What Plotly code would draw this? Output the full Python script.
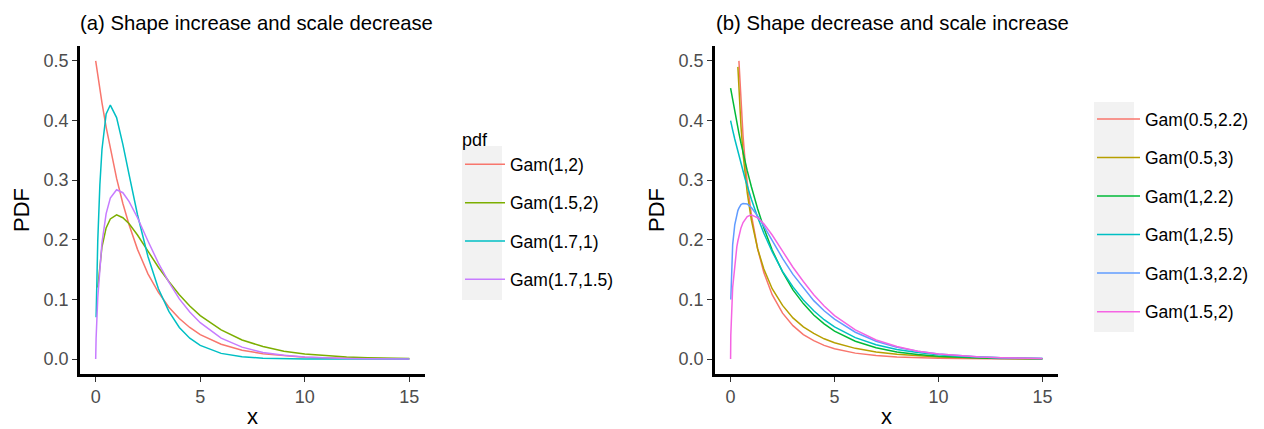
import plotly.graph_objects as go

# ---------------- data ----------------
xa = [0, 0.02, 0.1, 0.2, 0.3, 0.5, 0.7, 1.0, 1.3, 1.6, 2.0, 2.5, 3.0, 3.5, 4.0, 4.5,
      5, 6, 7, 8, 9, 10, 11, 12, 13, 14, 15]
gam_1_2 = [0.500, 0.495, 0.476, 0.452, 0.430, 0.389, 0.352, 0.303, 0.261, 0.225, 0.184,
           0.143, 0.112, 0.087, 0.068, 0.053, 0.041, 0.025, 0.015, 0.009, 0.006, 0.003,
           0.002, 0.001, 0.001, 0.0005, 0.0003]
gam_15_2 = [None, None, 0.120, 0.161, 0.188, 0.220, 0.235, 0.242, 0.237, 0.227, 0.208,
            0.181, 0.154, 0.130, 0.108, 0.089, 0.073, 0.049, 0.032, 0.021, 0.013, 0.0085,
            0.0054, 0.0034, 0.0022, 0.0014, 0.0009]
gam_17_1 = [None, 0.070, 0.199, 0.292, 0.351, 0.411, 0.426, 0.405, 0.360, 0.309, 0.242,
            0.172, 0.118, 0.080, 0.053, 0.035, 0.023, 0.0096, 0.0039, 0.0016, 0.0006,
            0.0002, 0.0001, 0, 0, 0, 0]
gam_17_15 = [0, 0.035, 0.103, 0.157, 0.195, 0.244, 0.270, 0.284, 0.279, 0.264, 0.237,
             0.198, 0.161, 0.129, 0.101, 0.079, 0.061, 0.035, 0.020, 0.011, 0.0064,
             0.0035, 0.0019, 0.0011, 0.0006, 0.0003, 0.0002]
names_a = ["Gam(1,2)", "Gam(1.5,2)", "Gam(1.7,1)", "Gam(1.7,1.5)"]
colors_a = ["#F8766D", "#7CAE00", "#00BFC4", "#C77CFF"]

xb = [0, 0.01, 0.1, 0.2, 0.3, 0.35, 0.4, 0.5, 0.6, 0.7, 0.8, 1.0, 1.3, 1.6, 2.0, 2.5,
      3.0, 3.5, 4.0, 4.5, 5, 6, 7, 8, 9, 10, 11, 12, 13, 14, 15]
gam_05_22 = [None, None, None, None, None, None, 0.500, 0.429, 0.374, 0.331, 0.296, 0.242,
             0.185, 0.145, 0.108, 0.077, 0.056, 0.041, 0.031, 0.023, 0.0175, 0.010,
             0.006, 0.0035, 0.0021, 0.0013, 0.0008, 0.0005, 0.0003, 0.0002, 0.0001]
gam_05_3 = [None, None, None, None, None, 0.490, 0.451, 0.390, 0.344, 0.308, 0.279, 0.233,
            0.185, 0.151, 0.118, 0.090, 0.069, 0.054, 0.043, 0.034, 0.0275, 0.018,
            0.012, 0.008, 0.0054, 0.0037, 0.0025, 0.0017, 0.0012, 0.0008, 0.0006]
gam_1_22 = [0.4545, 0.4525, 0.434, 0.415, 0.397, 0.388, 0.379, 0.362, 0.346, 0.331, 0.316,
            0.289, 0.252, 0.220, 0.183, 0.146, 0.116, 0.093, 0.074, 0.059, 0.047, 0.030,
            0.019, 0.012, 0.0076, 0.0048, 0.0031, 0.0019, 0.0012, 0.0008, 0.0005]
gam_1_25 = [0.400, 0.398, 0.384, 0.369, 0.355, 0.348, 0.341, 0.328, 0.315, 0.302, 0.291,
            0.268, 0.238, 0.211, 0.180, 0.147, 0.121, 0.099, 0.081, 0.066, 0.054, 0.036,
            0.024, 0.016, 0.011, 0.0073, 0.0049, 0.0033, 0.0022, 0.0015, 0.0010]
gam_13_22 = [None, 0.100, 0.192, 0.225, 0.243, 0.249, 0.253, 0.259, 0.261, 0.261, 0.260,
             0.254, 0.240, 0.223, 0.198, 0.169, 0.142, 0.119, 0.098, 0.081, 0.067, 0.045,
             0.030, 0.020, 0.013, 0.0085, 0.0055, 0.0036, 0.0023, 0.0015, 0.0010]
gam_15_2b = [0, 0.040, 0.120, 0.161, 0.188, 0.198, 0.207, 0.220, 0.229, 0.235, 0.239,
             0.242, 0.237, 0.227, 0.208, 0.181, 0.154, 0.130, 0.108, 0.089, 0.073, 0.049,
             0.032, 0.021, 0.013, 0.0085, 0.0054, 0.0034, 0.0022, 0.0014, 0.0009]
names_b = ["Gam(0.5,2.2)", "Gam(0.5,3)", "Gam(1,2.2)", "Gam(1,2.5)", "Gam(1.3,2.2)", "Gam(1.5,2)"]
colors_b = ["#F8766D", "#B79F00", "#00BA38", "#00BFC4", "#619CFF", "#F564E3"]

title_a = "(a) Shape increase and scale decrease"
title_b = "(b) Shape decrease and scale increase"
x_ticks = [0, 5, 10, 15]
y_ticks = [0.0, 0.1, 0.2, 0.3, 0.4, 0.5]

# ---------------- figure ----------------
W, H = 1264, 429
FONT = "Liberation Sans, Arial, sans-serif"

fig = go.Figure()
series_a = [gam_1_2, gam_15_2, gam_17_1, gam_17_15]
for i, ys in enumerate(series_a):
    fig.add_trace(go.Scatter(x=xa, y=ys, mode="lines", name=names_a[i],
                             line=dict(color=colors_a[i], width=1.5),
                             xaxis="x", yaxis="y", legend="legend",
                             legendgroup="a%d" % i))
series_b = [gam_05_22, gam_05_3, gam_1_22, gam_1_25, gam_13_22, gam_15_2b]
for i, ys in enumerate(series_b):
    fig.add_trace(go.Scatter(x=xb, y=ys, mode="lines", name=names_b[i],
                             line=dict(color=colors_b[i], width=1.5),
                             xaxis="x2", yaxis="y2", legend="legend2",
                             legendgroup="b%d" % i))

def px_x(p):
    return p / W

def px_y(p):
    return 1 - p / H

ydom = [px_y(374), px_y(46)]
axis_common = dict(showgrid=False, zeroline=False, showline=True, linecolor="black",
                   linewidth=2.6, ticks="outside", ticklen=5, tickwidth=1.1,
                   tickcolor="#333333", tickfont=dict(size=18, color="#4d4d4d", family=FONT),
                   mirror=False)

fig.update_layout(
    width=W, height=H,
    margin=dict(l=0, r=0, t=0, b=0),
    paper_bgcolor="white", plot_bgcolor="white",
    font=dict(family=FONT, color="black"),
    xaxis=dict(domain=[px_x(80), px_x(425)], range=[-0.75, 15.75], tickvals=x_ticks,
               title=dict(text="x", font=dict(size=22), standoff=4), anchor="y",
               **axis_common),
    yaxis=dict(domain=ydom, range=[-0.025, 0.525], tickvals=y_ticks, tickformat=".1f",
               title=dict(text="PDF", font=dict(size=22), standoff=8), anchor="x",
               **axis_common),
    xaxis2=dict(domain=[px_x(715), px_x(1058)], range=[-0.75, 15.75], tickvals=x_ticks,
                title=dict(text="x", font=dict(size=22), standoff=4), anchor="y2",
                **axis_common),
    yaxis2=dict(domain=ydom, range=[-0.025, 0.525], tickvals=y_ticks, tickformat=".1f",
                title=dict(text="PDF", font=dict(size=22), standoff=8), anchor="x2",
                **axis_common),
    legend=dict(x=px_x(460), y=px_y(123), xanchor="left", yanchor="top",
                title=dict(text="pdf", font=dict(size=18)),
                font=dict(size=17.5, color="black"), bgcolor="rgba(0,0,0,0)",
                itemwidth=40, tracegroupgap=12.6, traceorder="grouped"),
    legend2=dict(x=px_x(1092), y=px_y(101), xanchor="left", yanchor="top",
                 font=dict(size=17.5, color="black"), bgcolor="rgba(0,0,0,0)",
                 itemwidth=43, tracegroupgap=12.8, traceorder="grouped"),
    shapes=[
        dict(type="rect", xref="paper", yref="paper", x0=px_x(462), x1=px_x(502),
             y0=px_y(300), y1=px_y(146), fillcolor="#f2f2f2", line=dict(width=0),
             layer="below"),
        dict(type="rect", xref="paper", yref="paper", x0=px_x(1094), x1=px_x(1134),
             y0=px_y(332), y1=px_y(102), fillcolor="#f2f2f2", line=dict(width=0),
             layer="below"),
    ],
    annotations=[
        dict(text=title_a, xref="paper", yref="paper", x=px_x(78), y=px_y(23),
             xanchor="left", yanchor="middle", showarrow=False,
             font=dict(size=20.3, color="black", family=FONT)),
        dict(text=title_b, xref="paper", yref="paper", x=px_x(714), y=px_y(23),
             xanchor="left", yanchor="middle", showarrow=False,
             font=dict(size=20.3, color="black", family=FONT)),
    ],
)

fig.write_html("out.html")
